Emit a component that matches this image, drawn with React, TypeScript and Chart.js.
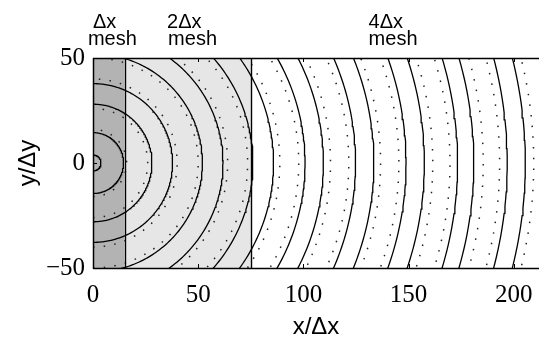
import React, { useEffect, useRef } from "react";
import { Chart, registerables } from "chart.js";

Chart.register(...registerables);

// Radii (in Δx units) of the solid (positive) contour arcs centred on the source at (0,0)
const solidRadii = [3.8, 14.5, 28, 37.8, 52, 61.8, 76, 85.8, 100.8, 109.5, 124.8, 133.5, 148.8, 157.5, 173.3, 181, 196.9, 205.5];
// Radii of the dotted (negative) contour arcs
const dottedRadii = [16, 26, 40, 50, 64, 73.5, 88.8, 97.8, 112.9, 121.6, 136.7, 145.4, 161.5, 169.7, 185.5, 193.3, 209.5];

// Mesh regions: [start, end) in x/Δx
const meshStarts = [0, 15];
const meshEnds = [15, 75];
const meshColors = ["#b3b3b3", "#e6e6e6"];
const meshBoundaries = [15, 75];

// Mesh labels above the plot
const meshLabelLine1 = ["\u0394x", "2\u0394x", "4\u0394x"];
const meshLabelLine1X = [0, 35.2, 131];
const meshLabelLine2 = ["mesh", "mesh", "mesh"];
const meshLabelLine2X = [-2.4, 35.7, 131];

const xTicks = [0, 50, 100, 150, 200];
const yTicks = [-50, 0, 50];
const xRange = [0, 212];
const yRange = [-50, 50];

function arcPoints(r: number) {
  const pts: { x: number; y: number }[] = [];
  for (let a = -90; a <= 90; a += 1) {
    const t = (a * Math.PI) / 180;
    pts.push({ x: r * Math.cos(t), y: r * Math.sin(t) });
  }
  return pts;
}

const meshPlugin = {
  id: "meshPlugin",
  beforeDatasetsDraw(chart: any) {
    const { ctx, chartArea, scales } = chart;
    const { top, bottom } = chartArea;
    const x = scales.x;
    ctx.save();
    meshStarts.forEach((s, i) => {
      const x0 = x.getPixelForValue(s);
      const x1 = x.getPixelForValue(meshEnds[i]);
      ctx.fillStyle = meshColors[i];
      ctx.fillRect(x0, top, x1 - x0, bottom - top);
    });
    ctx.restore();
  },
  afterDatasetsDraw(chart: any) {
    const { ctx, chartArea, scales } = chart;
    const { top, bottom, left, right } = chartArea;
    const x = scales.x;
    const y = scales.y;
    ctx.save();
    ctx.strokeStyle = "#000";
    ctx.lineWidth = 1.4;
    meshBoundaries.forEach((b) => {
      const px = Math.round(x.getPixelForValue(b)) + 0.5;
      ctx.beginPath();
      ctx.moveTo(px, top);
      ctx.lineTo(px, bottom);
      ctx.stroke();
    });
    ctx.lineWidth = 1.5;
    ctx.beginPath();
    ctx.moveTo(left, top + 0.5);
    ctx.lineTo(right, top + 0.5);
    ctx.moveTo(left, bottom + 0.5);
    ctx.lineTo(right, bottom + 0.5);
    ctx.moveTo(left + 0.5, top);
    ctx.lineTo(left + 0.5, bottom + 1);
    ctx.stroke();
    ctx.lineWidth = 1;
    ctx.beginPath();
    xTicks.forEach((v) => {
      const px = Math.round(x.getPixelForValue(v)) + 0.5;
      ctx.moveTo(px, bottom);
      ctx.lineTo(px, bottom - 4);
      ctx.moveTo(px, top);
      ctx.lineTo(px, top + 4);
    });
    yTicks.forEach((v) => {
      const py = Math.round(y.getPixelForValue(v)) + 0.5;
      ctx.moveTo(left, py);
      ctx.lineTo(left + 4, py);
    });
    ctx.stroke();
    ctx.fillStyle = "#000";
    ctx.font = "20px 'Liberation Sans', Arial, sans-serif";
    ctx.textAlign = "left";
    ctx.textBaseline = "alphabetic";
    meshLabelLine1.forEach((t, i) => {
      ctx.fillText(t, x.getPixelForValue(meshLabelLine1X[i]), 28);
    });
    meshLabelLine2.forEach((t, i) => {
      ctx.fillText(t, x.getPixelForValue(meshLabelLine2X[i]), 45);
    });
    ctx.restore();
  },
};

export default function App() {
  const ref = useRef<HTMLCanvasElement | null>(null);
  useEffect(() => {
    if (!ref.current) return;
    const datasets: any[] = [];
    solidRadii.forEach((r) => {
      datasets.push({
        data: arcPoints(r),
        showLine: true,
        borderColor: "#000",
        borderWidth: 1.3,
        pointRadius: 0,
        tension: 0,
        fill: false,
      });
    });
    dottedRadii.forEach((r) => {
      datasets.push({
        data: arcPoints(r),
        showLine: true,
        borderColor: "#222",
        borderWidth: 1.5,
        borderDash: [1.5, 9.2],
        borderCapStyle: "butt",
        pointRadius: 0,
        tension: 0,
        fill: false,
      });
    });
    const chart = new Chart(ref.current, {
      type: "scatter",
      data: { datasets },
      options: {
        responsive: false,
        animation: false,
        events: [],
        layout: { padding: { top: 58, right: 0, left: 0, bottom: 0 } },
        plugins: { legend: { display: false }, tooltip: { enabled: false } },
        scales: {
          x: {
            type: "linear",
            position: "bottom",
            min: xRange[0],
            max: xRange[1],
            afterFit: (s: any) => {
              s.height = 75;
              s.paddingLeft = 0;
              s.paddingRight = 0;
            },
            afterBuildTicks: (s: any) => {
              s.ticks = xTicks.map((v) => ({ value: v }));
            },
            grid: { display: false, drawTicks: false },
            border: { display: false },
            ticks: {
              padding: 12,
              autoSkip: false,
              maxRotation: 0,
              color: "#000",
              font: { family: "'Liberation Serif', 'Times New Roman', serif", size: 25 },
            },
            title: {
              display: true,
              text: "x/\u0394x",
              color: "#000",
              font: { family: "'Liberation Sans', Arial, sans-serif", size: 24, lineHeight: 1.2 },
              padding: { top: 0, bottom: 1 },
            },
          },
          y: {
            type: "linear",
            min: yRange[0],
            max: yRange[1],
            afterFit: (s: any) => {
              s.width = 93;
              s.paddingTop = 0;
              s.paddingBottom = 0;
            },
            afterBuildTicks: (s: any) => {
              s.ticks = yTicks.map((v) => ({ value: v }));
            },
            grid: { display: false, drawTicks: false },
            border: { display: false },
            ticks: {
              padding: 8,
              autoSkip: false,
              color: "#000",
              font: { family: "'Liberation Serif', 'Times New Roman', serif", size: 25 },
              callback: (v: any) => (Number(v) < 0 ? "\u2212" + Math.abs(Number(v)) : String(v)),
            },
            title: {
              display: true,
              text: "y/\u0394y",
              color: "#000",
              font: { family: "'Liberation Sans', Arial, sans-serif", size: 24, lineHeight: 1.2 },
              padding: { top: 14, bottom: 0 },
            },
          },
        },
      },
      plugins: [meshPlugin],
    });
    return () => chart.destroy();
  }, []);
  return (
    <div style={{ position: "fixed", left: 0, top: 0, width: 539, height: 343, background: "#fff" }}>
      <canvas ref={ref} width={539} height={343} style={{ display: "block" }} />
    </div>
  );
}
